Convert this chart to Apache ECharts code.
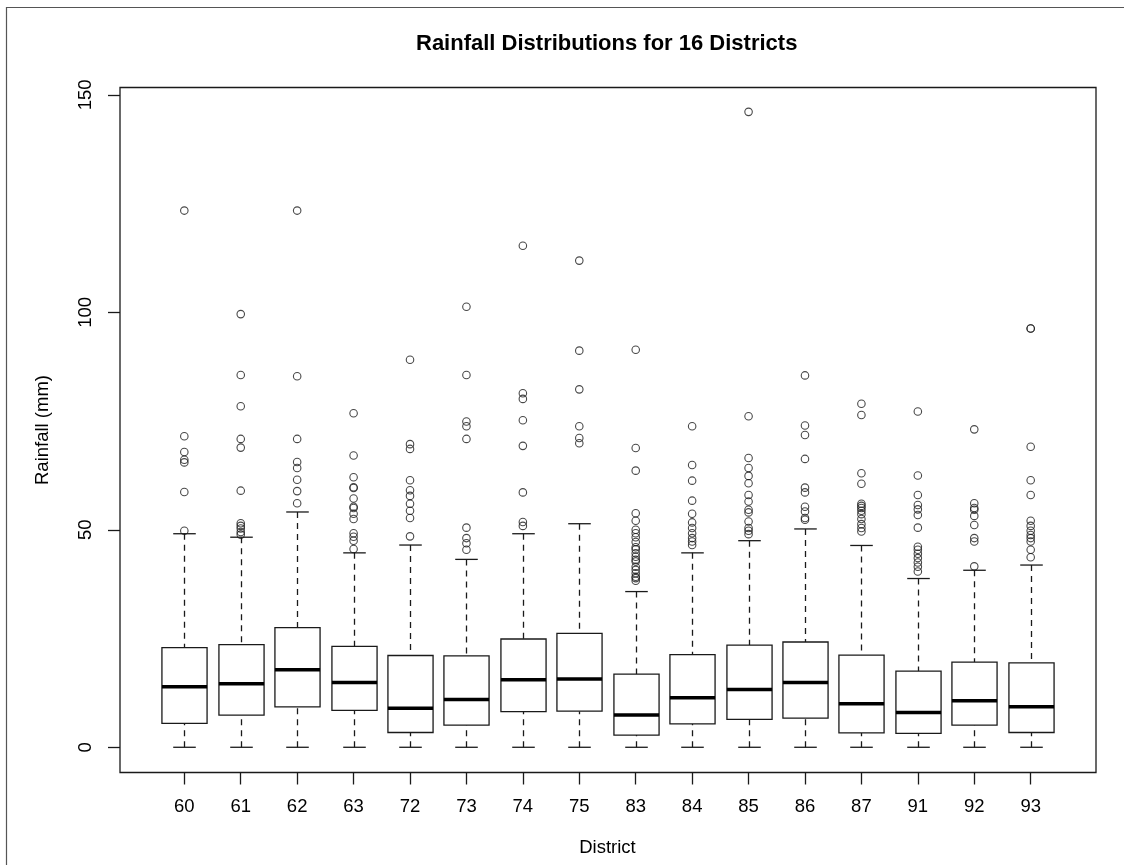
<!DOCTYPE html>
<html>
<head>
<meta charset="utf-8">
<script src="https://cdn.jsdelivr.net/npm/echarts@6/dist/echarts.min.js"></script>
<style>
html,body{margin:0;padding:0;background:#fff;}
#chart{width:1124px;height:865px;}
</style>
</head>
<body>
<div id="chart"></div>
<script>
// ---- Data ----
const districts = ['60','61','62','63','72','73','74','75','83','84','85','86','87','91','92','93'];
const lowerWhisker = [0,0,0,0,0,0,0,0,0,0,0,0,0,0,0,0];
const q1Values     = [5.5,7.4,9.3,8.5,3.4,5.1,8.2,8.3,2.8,5.4,6.4,6.7,3.3,3.2,5.1,3.4];
const medianValues = [13.9,14.6,17.8,14.9,9.0,11.0,15.5,15.7,7.4,11.4,13.3,14.9,10.0,8.0,10.7,9.3];
const q3Values     = [22.9,23.6,27.5,23.2,21.1,21.0,24.9,26.2,16.8,21.3,23.5,24.2,21.2,17.5,19.6,19.4];
const upperWhisker = [49.1,48.3,54.1,44.7,46.5,43.2,49.1,51.4,35.8,44.7,47.5,50.2,46.4,38.8,40.7,41.9];
const outlierValues = [
  [123.4,71.5,67.9,66.1,65.5,58.7,49.8],
  [99.6,85.6,78.4,70.9,68.9,59.0,51.5,50.9,50.3,49.5,48.9],
  [123.4,85.3,70.9,65.6,64.2,61.5,58.9,56.1],
  [76.8,67.1,62.1,59.8,59.6,57.2,55.3,55.0,53.7,52.5,49.2,48.4,47.5,45.6],
  [89.1,69.7,68.6,61.4,59.1,57.8,56.0,54.4,52.7,48.5],
  [101.3,85.6,74.9,73.8,70.9,50.5,48.1,46.9,45.4],
  [115.3,81.4,80.1,75.2,69.3,58.6,51.8,50.9],
  [111.9,91.2,82.3,73.8,71.1,69.9],
  [91.4,68.8,63.6,53.8,52.1,50.0,49.2,48.3,47.2,46.0,45.5,44.6,43.8,43.1,42.7,41.5,40.8,40.0,39.2,38.9,38.3],
  [73.8,64.9,61.3,56.7,53.7,51.7,50.4,49.2,48.1,47.3,46.5],
  [146.1,76.1,66.5,64.2,62.4,60.7,58.0,56.5,54.6,54.0,51.9,50.4,49.8,49.0],
  [85.5,74.0,71.8,66.3,59.7,58.6,55.3,54.2,52.7,52.3],
  [79.0,76.4,63.0,60.6,56.0,55.5,55.0,54.4,53.6,52.5,51.3,50.4,49.6],
  [77.2,62.5,58.0,55.7,54.7,53.4,50.5,46.1,45.4,44.5,43.5,42.5,41.5,40.4],
  [73.1,56.1,55.0,54.6,53.2,51.1,48.1,47.3,41.6],
  [96.3,96.3,69.1,61.4,58.0,52.1,50.9,49.8,48.8,48.1,47.3,45.4,43.7]
];
const yTickValues = [0, 50, 100, 150];

// ---- Build series data from arrays ----
const boxData = districts.map((d, i) => [i, lowerWhisker[i], q1Values[i], medianValues[i], q3Values[i], upperWhisker[i]]);
const outlierData = [];
outlierValues.forEach((arr, i) => arr.forEach(v => outlierData.push([i, v])));

const INK = '#1a1a1a';
const FONT = 'Liberation Sans, Arial, sans-serif';
const Y_MIN = -5.8, Y_MAX = 151.7;
const LW = 1.3;

const chart = echarts.init(document.getElementById('chart'), null, {renderer: 'canvas'});
chart.setOption({
  animation: false,
  backgroundColor: '#fff',
  title: {
    text: 'Rainfall Distributions for 16 Districts',
    left: 416, top: 33, padding: 0,
    textStyle: {fontFamily: FONT, fontSize: 22, fontWeight: 'bold', color: '#000'}
  },
  graphic: [{
    type: 'rect', silent: true, z: -10,
    shape: {x: 6.5, y: 7.5, width: 1400, height: 1200},
    style: {fill: 'none', stroke: '#555', lineWidth: 1.2}
  }],
  grid: [
    {left: 156.1, right: 65.1, top: 87.5, bottom: 92.5, show: false},
    {left: 120, right: 28, top: 87.5, bottom: 92.5, show: true, borderColor: INK, borderWidth: LW, backgroundColor: 'transparent'}
  ],
  xAxis: [
    {
      type: 'category', gridIndex: 0, data: districts,
      name: 'District', nameLocation: 'middle', nameGap: 66,
      nameTextStyle: {fontFamily: FONT, fontSize: 18.5, color: '#000'},
      axisLine: {show: false, onZero: false},
      axisTick: {show: true, alignWithLabel: true, length: 12, lineStyle: {color: INK, width: LW}},
      axisLabel: {fontFamily: FONT, fontSize: 18.5, color: '#000', margin: 25, interval: 0},
      splitLine: {show: false}
    },
    {type: 'value', gridIndex: 1, min: 0, max: 1, show: false}
  ],
  yAxis: [
    {type: 'value', gridIndex: 0, min: Y_MIN, max: Y_MAX, show: false},
    {
      type: 'value', gridIndex: 1, min: Y_MIN, max: Y_MAX,
      name: 'Rainfall (mm)', nameLocation: 'middle', nameGap: 68, nameRotate: 90,
      nameTextStyle: {fontFamily: FONT, fontSize: 18.5, color: '#000'},
      axisLine: {show: false, onZero: false},
      axisTick: {show: true, length: 12, customValues: yTickValues, lineStyle: {color: INK, width: LW}},
      axisLabel: {show: true, rotate: 90, customValues: yTickValues, fontFamily: FONT, fontSize: 18.5, color: '#000', margin: 25},
      splitLine: {show: false}
    }
  ],
  series: [
    {
      type: 'custom', xAxisIndex: 0, yAxisIndex: 0, z: 2,
      data: boxData,
      encode: {x: 0, y: [1, 2, 3, 4, 5]},
      renderItem: function (params, api) {
        const idx = api.value(0);
        const lo = api.coord([idx, api.value(1)]);
        const q1 = api.coord([idx, api.value(2)]);
        const med = api.coord([idx, api.value(3)]);
        const q3 = api.coord([idx, api.value(4)]);
        const hi = api.coord([idx, api.value(5)]);
        const band = api.size([1, 0])[0];
        const bw = band * 0.8;
        const sw = bw * 0.5;
        const cx = Math.round(med[0]) + 0.5;
        const solid = {stroke: INK, lineWidth: LW, fill: 'none'};
        const dashed = {stroke: INK, lineWidth: LW, lineDash: [6, 5], fill: 'none'};
        return {
          type: 'group',
          children: [
            {type: 'line', shape: {x1: cx, y1: hi[1], x2: cx, y2: q3[1]}, style: dashed},
            {type: 'line', shape: {x1: cx, y1: lo[1], x2: cx, y2: q1[1]}, style: dashed},
            {type: 'line', shape: {x1: cx - sw / 2, y1: hi[1], x2: cx + sw / 2, y2: hi[1]}, style: solid},
            {type: 'line', shape: {x1: cx - sw / 2, y1: lo[1], x2: cx + sw / 2, y2: lo[1]}, style: solid},
            {type: 'rect', shape: {x: cx - bw / 2, y: q3[1], width: bw, height: q1[1] - q3[1]}, style: {stroke: INK, lineWidth: LW, fill: '#fff'}},
            {type: 'line', shape: {x1: cx - bw / 2, y1: med[1], x2: cx + bw / 2, y2: med[1]}, style: {stroke: '#000', lineWidth: 3.5}}
          ]
        };
      }
    },
    {
      type: 'scatter', xAxisIndex: 0, yAxisIndex: 0, z: 3,
      data: outlierData,
      symbol: 'circle', symbolSize: 7.5,
      itemStyle: {color: 'rgba(0,0,0,0)', borderColor: INK, borderWidth: 1.1}
    }
  ]
});
</script>
</body>
</html>
